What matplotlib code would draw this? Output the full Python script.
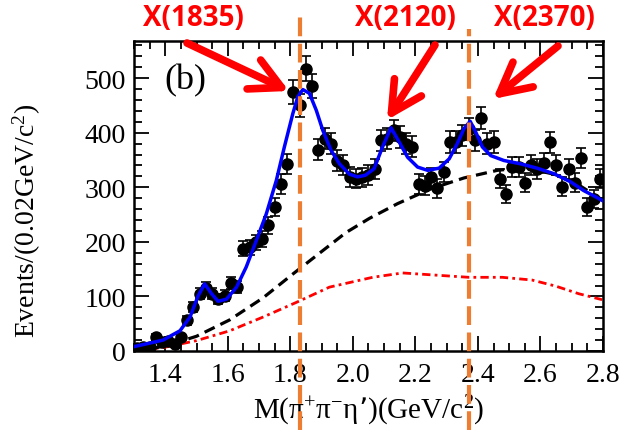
import numpy as np
import matplotlib.pyplot as plt
import matplotlib.transforms as mtransforms
from matplotlib.lines import Line2D
from matplotlib.ticker import MultipleLocator

plt.rcParams['font.family'] = ['Liberation Serif', 'DejaVu Serif']
plt.rcParams['mathtext.default'] = 'regular'

# M(pi+ pi- eta') spectrum, 20 MeV bins
mass = np.round(np.arange(1.31, 2.80, 0.02), 2)
events = [5, 8, 8, 26, 16, 18, 12, 26, 56, 80,
          105, 115, 105, 95, 101, 124, 117, 187, 190, 199,
          205, 230, 264, 306, 343, 475, 450, 517, 486, 369,
          389, 380, 349, 340, 319, 316, 318, 322, 334, 386,
          389, 404, 392, 380, 374, 306, 303, 318, 298, 328,
          383, 383, 395, 407, 386, 427, 380, 383, 316, 288,
          337, 337, 308, 340, 334, 345, 382, 341, 301, 334,
          308, 354, 264, 279, 316]

# total fit
fit_m = [1.30, 1.393, 1.447, 1.479, 1.505, 1.526, 1.548, 1.569, 1.596, 1.628,
         1.659, 1.691, 1.723, 1.755, 1.781, 1.808, 1.824, 1.840, 1.861, 1.883,
         1.904, 1.930, 1.957, 1.989, 2.015, 2.040, 2.068, 2.095, 2.122, 2.148,
         2.175, 2.207, 2.239, 2.276, 2.308, 2.334, 2.355, 2.375, 2.393, 2.414,
         2.441, 2.483, 2.536, 2.589, 2.642, 2.696, 2.738, 2.791, 2.80]
fit_v = [8, 20, 37, 62, 101, 123, 105, 91, 95, 117,
         154, 202, 251, 312, 374, 435, 466, 479, 472, 441,
         404, 368, 343, 324, 319, 322, 334, 374, 409, 383,
         355, 337, 331, 335, 352, 380, 407, 421, 401, 374,
         358, 349, 343, 335, 325, 310, 294, 278, 275]

# non-resonant background
bkg_m = [1.31, 1.35, 1.40, 1.45, 1.50, 1.606, 1.712, 1.808, 1.904, 1.978,
         2.053, 2.143, 2.249, 2.355, 2.462, 2.55, 2.65, 2.72, 2.80]
bkg_v = [1, 3, 10, 18, 27, 57, 97, 141, 184, 217,
         243, 270, 297, 317, 331, 336, 323, 305, 276]

# second background component
bkg2_m = [1.33, 1.40, 1.50, 1.606, 1.712, 1.819, 1.925, 2.063, 2.159, 2.265,
          2.371, 2.478, 2.573, 2.648, 2.722, 2.797]
bkg2_v = [2, 7, 19, 37, 62, 89, 117, 135, 143, 139,
          135, 135, 130, 119, 105, 94]

resonances = ['X(1835)', 'X(2120)', 'X(2370)']
marked_mass = [1.83, 2.37]

fig = plt.figure(figsize=(6.25, 4.31), dpi=100)
ax = fig.add_axes([0.2144, 0.1833, 0.7504, 0.7193])

ax.plot(bkg2_m, bkg2_v, color='red', lw=2, ls=(0, (3, 1.5, 1, 1.5)), zorder=2)
ax.plot(bkg_m, bkg_v, color='black', lw=2.3, ls=(0, (3.5, 2)), zorder=2)
ax.errorbar(mass, events, yerr=np.sqrt(events), fmt='o', color='black',
            ms=8, capsize=3.5, elinewidth=1.2, capthick=1.2, zorder=3)
ax.plot(fit_m, fit_v, color='#0000ff', lw=2.5, zorder=4)

ax.set_xlim(1.30, 2.80)
ax.set_ylim(0, 568)
ax.xaxis.set_major_locator(MultipleLocator(0.2))
ax.xaxis.set_minor_locator(MultipleLocator(0.05))
ax.yaxis.set_major_locator(MultipleLocator(100))
ax.yaxis.set_minor_locator(MultipleLocator(20))
ax.xaxis.set_major_formatter(lambda v, p: f'{v:.1f}')
ax.tick_params(which='both', direction='in', top=True, right=True,
               labelsize=20, width=1.3)
ax.tick_params(which='major', length=11)
ax.tick_params(which='minor', length=6)
ax.tick_params(axis='x', pad=8)
ax.tick_params(axis='y', pad=6)
for s in ax.spines.values():
    s.set_linewidth(1.8)

ax.text(0.065, 0.93, '(b)', transform=ax.transAxes, fontsize=26,
        va='top', ha='left')

fig.text(27 / 625, 1 - 221 / 431, 'Events/(0.02GeV/c$^{2}$)', rotation=90,
         ha='center', va='center', fontsize=20)
fig.text(369 / 625, 1 - 411 / 431, 'M(π$^{+}$π$^{-}$η’)(GeV/c$^{2}$)',
         ha='center', va='center', fontsize=21)

# dashed markers across the whole figure
blend = mtransforms.blended_transform_factory(ax.transData, fig.transFigure)
for m, top in zip(marked_mass, [0.975, 0.93]):
    fig.add_artist(Line2D([m, m], [0, top], transform=blend, color='#ed7d31',
                          lw=3, ls=(0, (4.5, 1.8)), clip_on=False, zorder=5))

# labels and arrows
for name, xc in zip(resonances, [193, 405, 544]):
    fig.text(xc / 625, 1 - 18 / 431, name, color='red', fontsize=20,
             fontweight='bold', family='Open Sans', ha='center', va='center')

arrows = [((187, 44), (289, 92)), ((435, 46), (387, 121)), ((558, 47), (493, 100))]
for (x0, y0), (x1, y1) in arrows:
    ax.annotate('', xy=(x1, 431 - y1), xytext=(x0, 431 - y0),
                xycoords='figure pixels', textcoords='figure pixels',
                arrowprops=dict(arrowstyle='->,head_length=2.2,head_width=1.15',
                                mutation_scale=10, lw=5.5, color='red',
                                shrinkA=0, shrinkB=0), zorder=6)

fig.savefig('out.png', dpi=100)
